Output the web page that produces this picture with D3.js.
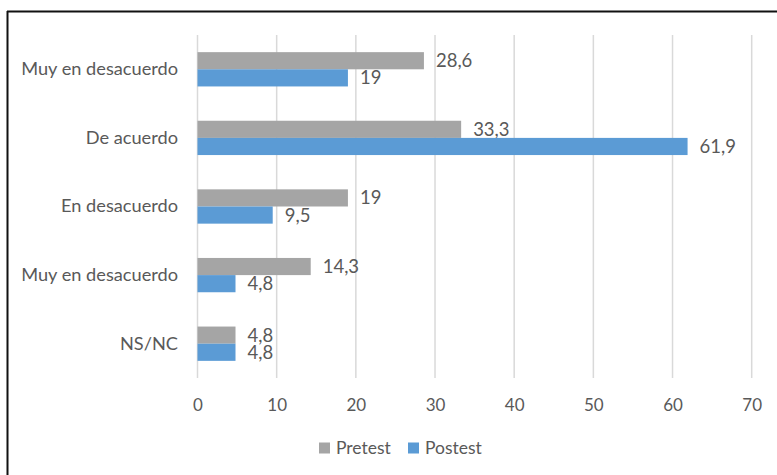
<!DOCTYPE html>
<html>
<head>
<meta charset="utf-8">
<script src="https://cdn.jsdelivr.net/npm/d3@7/dist/d3.min.js"></script>
<style>
  html, body { margin: 0; padding: 0; background: #fff; }
  svg { display: block; }
  text { font-family: Lato, "Open Sans", sans-serif; fill: #595959; }
</style>
</head>
<body>
<svg id="chart" width="777" height="475"></svg>
<script>
const categories = ["Muy en desacuerdo", "De acuerdo", "En desacuerdo", "Muy en desacuerdo ", "NS/NC"];
const pretest = [28.6, 33.3, 19, 14.3, 4.8];
const postest = [19, 61.9, 9.5, 4.8, 4.8];
const seriesNames = ["Pretest", "Postest"];
const xTicks = [0, 10, 20, 30, 40, 50, 60, 70];

const colors = { Pretest: "#A5A5A5", Postest: "#5B9BD5" };
const fmt = v => String(v).replace(".", ",");

const svg = d3.select("#chart");
const W = 777, H = 475;
const plot = { left: 197.5, right: 751.7, top: 35, bottom: 378 };

// frame (top & left borders visible)
svg.append("line").attr("x1", 7).attr("x2", W).attr("y1", 11.5).attr("y2", 11.5)
  .attr("stroke", "#111").attr("stroke-width", 2);
svg.append("line").attr("x1", 7.5).attr("x2", 7.5).attr("y1", 11).attr("y2", H)
  .attr("stroke", "#111").attr("stroke-width", 2);

const x = d3.scaleLinear().domain([0, 70]).range([plot.left, plot.right]);
const y = d3.scaleBand().domain(categories).range([plot.top, plot.bottom]).paddingInner(0.5).paddingOuter(0.25);
const sub = d3.scaleBand().domain(seriesNames).range([0, y.bandwidth()]);

// gridlines
svg.append("g").selectAll("line").data(xTicks).join("line")
  .attr("x1", d => x(d)).attr("x2", d => x(d))
  .attr("y1", plot.top).attr("y2", plot.bottom)
  .attr("stroke", "#D9D9D9").attr("stroke-width", 1.5);

// x axis labels
const xAxis = d3.axisBottom(x).tickValues(xTicks).tickSize(0).tickPadding(0);
const gx = svg.append("g").attr("transform", `translate(0,${plot.bottom + 27})`).call(xAxis);
gx.select(".domain").remove();
gx.selectAll("text").attr("font-size", 17).attr("fill", "#595959")
  .style("font-family", "Lato, sans-serif").attr("dy", "0.35em");

// y axis labels
const yAxis = d3.axisLeft(y).tickSize(0).tickPadding(0);
const gy = svg.append("g").attr("transform", `translate(178,0)`).call(yAxis);
gy.select(".domain").remove();
gy.selectAll("text").attr("font-size", 18.2).attr("fill", "#595959")
  .style("font-family", "Lato, sans-serif");

const rows = categories.map((c, i) => ({ c, Pretest: pretest[i], Postest: postest[i] }));

seriesNames.forEach(s => {
  const g = svg.append("g");
  g.selectAll("rect").data(rows).join("rect")
    .attr("x", x(0))
    .attr("y", d => y(d.c) + sub(s))
    .attr("width", d => x(d[s]) - x(0))
    .attr("height", sub.bandwidth())
    .attr("fill", colors[s]);
  g.selectAll("text").data(rows).join("text")
    .attr("x", d => x(d[s]) + 12)
    .attr("y", d => y(d.c) + sub(s) + sub.bandwidth() / 2)
    .attr("dy", "0.35em")
    .attr("font-size", 18.5)
    .text(d => fmt(d[s]));
});

// legend
const legendX = [319, 408];
const lg = svg.append("g").selectAll("g").data(seriesNames).join("g")
  .attr("transform", (d, i) => `translate(${legendX[i]},448)`);
lg.append("rect").attr("x", 0).attr("y", -5.5).attr("width", 11).attr("height", 11)
  .attr("fill", d => colors[d]);
lg.append("text").attr("x", 17).attr("dy", "0.35em").attr("font-size", 17.5).text(d => d);
</script>
</body>
</html>
